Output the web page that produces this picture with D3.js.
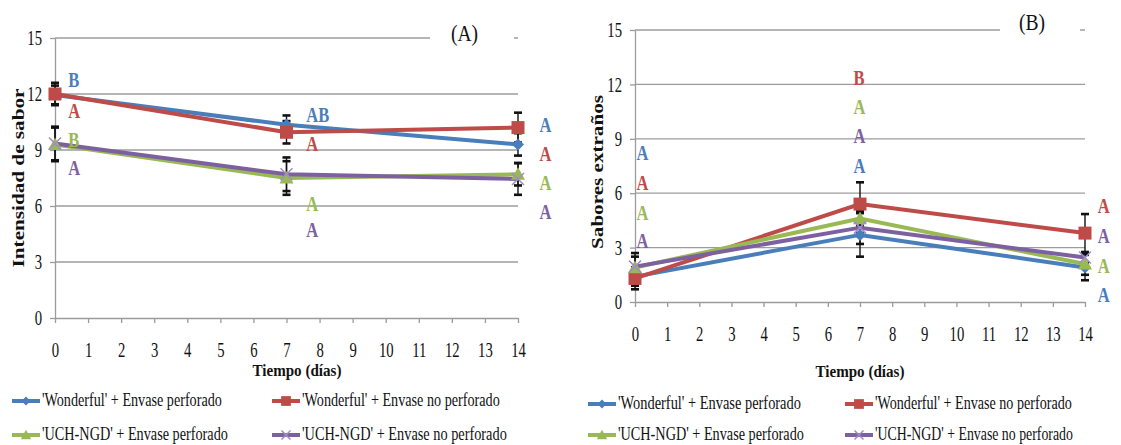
<!DOCTYPE html>
<html>
<head>
<meta charset="utf-8">
<script src="https://cdn.jsdelivr.net/npm/d3@7"></script>
<style>
  body { margin: 0; background: #fff; }
  svg { display: block; }
  svg text { font-family: "Liberation Serif", "Times New Roman", serif; }
</style>
</head>
<body>
<svg id="chart" width="1121" height="445"></svg>
<script>
const days = [0, 7, 14];
const xTicks = d3.range(0, 15);
const yTicks = [0, 3, 6, 9, 12, 15];

const seriesNames = [
    "'Wonderful' + Envase perforado",
    "'Wonderful' + Envase no perforado",
    "'UCH-NGD' + Envase perforado",
    "'UCH-NGD' + Envase no perforado"
];
const seriesColors = ["#4a7ebb", "#be4b48", "#98b954", "#7d60a0"];
const seriesSymbols = ["diamond", "square", "triangle", "cross"];

// (A) Intensidad de sabor
const intWonderfulPerf = [11.95, 10.35, 9.3];
const intWonderfulNoPerf = [12.0, 9.95, 10.2];
const intUchPerf = [9.3, 7.5, 7.7];
const intUchNoPerf = [9.35, 7.7, 7.45];
const intErrWonderfulPerf = [0.5, 0.5, 0.6];
const intErrWonderfulNoPerf = [0.6, 0.6, 0.8];
const intErrUchPerf = [0.9, 0.9, 0.6];
const intErrUchNoPerf = [0.9, 0.9, 0.85];
const intLetters = [["B", "A", "B", "A"], ["AB", "A", "A", "A"], ["A", "A", "A", "A"]];
const intLetterX = [0.4, 7.6, 14.65];
const intLetterY = [[12.37, 10.71, 9.16, 7.66], [10.5, 8.95, 5.73, 4.34], [9.96, 8.41, 6.86, 5.3]];

// (B) Sabores extraños
const extWonderfulPerf = [1.4, 3.7, 1.9];
const extWonderfulNoPerf = [1.3, 5.4, 3.8];
const extUchPerf = [1.9, 4.6, 2.1];
const extUchNoPerf = [1.95, 4.1, 2.45];
const extErrWonderfulPerf = [0.5, 1.2, 0.7];
const extErrWonderfulNoPerf = [0.6, 1.2, 1.05];
const extErrUchPerf = [0.8, 0.8, 0.6];
const extErrUchNoPerf = [0.55, 0.9, 0.3];
const extLetters = [["A", "A", "A", "A"], ["A", "B", "A", "A"], ["A", "A", "A", "A"]];
const extLetterX = [0.05, 6.8, 14.4];
const extLetterY = [[7.83, 6.18, 4.52, 2.98], [7.11, 11.97, 10.37, 8.77], [0.0, 4.91, 1.6, 3.25]];

const svg = d3.select("#chart");

// squash text horizontally, like the original picture (k = factor, or w = target width)
function squeeze(sel, k, w) {
    sel.each(function () {
        const t = d3.select(this);
        const f = w ? w / this.getComputedTextLength() : k;
        const x = +t.attr("x") || 0;
        const y = +t.attr("y") || 0;
        const pre = t.attr("transform") || `translate(${x}, ${y})`;
        t.attr("x", 0).attr("y", 0).attr("transform", `${pre} scale(${f}, 1)`);
    });
}

function marker(g, type, color, cx, cy, s) {
    if (type === "diamond") {
        const r = 6 * s;
        g.append("path")
        .attr("d", `M${cx},${cy - r}L${cx + r},${cy}L${cx},${cy + r}L${cx - r},${cy}Z`)
        .attr("fill", color);
    } else if (type === "square") {
        const h = 6.5 * s;
        g.append("rect")
        .attr("x", cx - h).attr("y", cy - h)
        .attr("width", 2 * h).attr("height", 2 * h)
        .attr("fill", color);
    } else if (type === "triangle") {
        const h = 7 * s;
        g.append("path")
        .attr("d", `M${cx},${cy - h}L${cx + h},${cy + h * 0.8}L${cx - h},${cy + h * 0.8}Z`)
        .attr("fill", color);
    } else {
        const h = 6 * s;
        g.append("path")
        .attr("d", `M${cx - h},${cy - h}L${cx + h},${cy + h}M${cx - h},${cy + h}L${cx + h},${cy - h}`)
        .attr("stroke", "#a08cc8")
        .attr("stroke-width", 1.5)
        .attr("fill", "none");
    }
}

function drawPanel(p) {
    const x = d3.scaleLinear().domain([0, 14]).range([p.left, p.right]);
    const y = d3.scaleLinear().domain([0, 15]).range([p.bottom, p.top]);
    const g = svg.append("g");

    g.selectAll(".grid")
    .data(yTicks.filter(t => t > 0))
    .enter()
    .append("line")
    .attr("x1", p.left)
    .attr("x2", p.right)
    .attr("y1", d => y(d))
    .attr("y2", d => y(d))
    .attr("stroke", "#9c9c9c")
    .attr("stroke-width", 1.3);

    const xAxis = g.append("g")
    .attr("transform", `translate(0, ${p.bottom})`)
    .call(d3.axisBottom(x).tickValues(xTicks).tickSize(5).tickSizeOuter(0).tickFormat(d3.format("d")));
    xAxis.attr("font-family", null).attr("font-size", 21);
    xAxis.selectAll(".domain, .tick line").attr("stroke", "#9c9c9c").attr("stroke-width", 1.3);
    xAxis.selectAll("text")
    .attr("y", p.xTickBase - p.bottom)
    .attr("dy", null)
    .attr("fill", "#111");
    squeeze(xAxis.selectAll("text"), 0.7);

    const yAxis = g.append("g")
    .attr("transform", `translate(${p.left}, 0)`)
    .call(d3.axisLeft(y).tickValues(yTicks).tickSize(5).tickSizeOuter(0).tickPadding(8));
    yAxis.attr("font-family", null).attr("font-size", 21);
    yAxis.selectAll(".domain, .tick line").attr("stroke", "#9c9c9c").attr("stroke-width", 1.3);
    yAxis.selectAll("text").attr("fill", "#111");
    squeeze(yAxis.selectAll("text"), 0.7);

    // panel tag, white box over the top gridline
    g.append("rect")
    .attr("x", p.boxX0)
    .attr("y", y(15) - 14)
    .attr("width", p.boxX1 - p.boxX0)
    .attr("height", 28)
    .attr("fill", "#fff");
    const tag = g.append("text")
    .text(p.tag)
    .attr("x", p.tagX)
    .attr("y", p.tagY)
    .attr("font-size", 23)
    .attr("fill", "#111");
    squeeze(tag, 0.85);

    // error bars
    p.series.forEach(s => {
        days.forEach((d, j) => {
            const lo = y(s.values[j] - s.err[j]);
            const hi = y(s.values[j] + s.err[j]);
            g.append("line")
            .attr("x1", x(d)).attr("x2", x(d))
            .attr("y1", lo).attr("y2", hi)
            .attr("stroke", "#111").attr("stroke-width", 1.4);
            [lo, hi].forEach(c => {
                g.append("line")
                .attr("x1", x(d) - 4).attr("x2", x(d) + 4)
                .attr("y1", c).attr("y2", c)
                .attr("stroke", "#111").attr("stroke-width", 2.6);
            });
        });
    });

    const line = d3.line().x((v, j) => x(days[j])).y(v => y(v));
    p.series.forEach(s => {
        g.append("path")
        .attr("d", line(s.values))
        .attr("fill", "none")
        .attr("stroke", s.color)
        .attr("stroke-width", 4);
    });
    p.series.forEach(s => {
        s.values.forEach((v, j) => marker(g, s.symbol, s.color, x(days[j]), y(v), 1));
    });

    // significance letters
    p.letterX.forEach((lx, j) => {
        p.series.forEach((s, i) => {
            const t = g.append("text")
            .text(p.letters[j][i])
            .attr("x", x(lx))
            .attr("y", y(p.letterY[j][i]))
            .attr("font-size", 22)
            .attr("font-weight", "bold")
            .attr("fill", s.color);
            squeeze(t, 0.75);
        });
    });

    const xt = g.append("text")
    .text("Tiempo (días)")
    .attr("x", p.xTitleX - 44.5)
    .attr("y", p.xTitleY)
    .attr("font-size", 17)
    .attr("font-weight", "bold")
    .attr("fill", "#111");
    squeeze(xt, 0, 89);

    const yt = g.append("text")
    .text(p.yTitle)
    .attr("transform", `translate(${p.yTitleX}, ${p.yTitleY}) rotate(-90)`)
    .attr("text-anchor", "middle")
    .attr("font-size", 17)
    .attr("font-weight", "bold")
    .attr("fill", "#111");
    squeeze(yt, 0, p.yTitleLen);
}

function makeSeries(vals, errs) {
    return vals.map((v, i) => ({
        values: v,
        err: errs[i],
        color: seriesColors[i],
        symbol: seriesSymbols[i]
    }));
}

function drawLegend(cols, rows, widths) {
    const g = svg.append("g");
    seriesNames.forEach((name, i) => {
        const lx = cols[i % 2];
        const ly = rows[Math.floor(i / 2)];
        g.append("line")
        .attr("x1", lx).attr("x2", lx + 28)
        .attr("y1", ly).attr("y2", ly)
        .attr("stroke", seriesColors[i])
        .attr("stroke-width", 4);
        marker(g, seriesSymbols[i], seriesColors[i], lx + 14, ly, 0.75);
        const t = g.append("text")
        .text(name)
        .attr("x", lx + 30)
        .attr("y", ly + 5)
        .attr("font-size", 18)
        .attr("fill", "#111");
        squeeze(t, 0, widths[i]);
    });
}

drawPanel({
    left: 55, right: 518, top: 38, bottom: 318,
    xTickBase: 357,
    series: makeSeries(
        [intWonderfulPerf, intWonderfulNoPerf, intUchPerf, intUchNoPerf],
        [intErrWonderfulPerf, intErrWonderfulNoPerf, intErrUchPerf, intErrUchNoPerf]),
    letters: intLetters, letterX: intLetterX, letterY: intLetterY,
    tag: "(A)", tagX: 451, tagY: 41, boxX0: 430, boxX1: 514,
    xTitleX: 297, xTitleY: 376,
    yTitle: "Intensidad de sabor", yTitleX: 24, yTitleY: 178, yTitleLen: 179
});

drawPanel({
    left: 635, right: 1085, top: 30, bottom: 302,
    xTickBase: 341,
    series: makeSeries(
        [extWonderfulPerf, extWonderfulNoPerf, extUchPerf, extUchNoPerf],
        [extErrWonderfulPerf, extErrWonderfulNoPerf, extErrUchPerf, extErrUchNoPerf]),
    letters: extLetters, letterX: extLetterX, letterY: extLetterY,
    tag: "(B)", tagX: 1019, tagY: 30, boxX0: 1000, boxX1: 1080,
    xTitleX: 860, xTitleY: 377,
    yTitle: "Sabores extraños", yTitleX: 603, yTitleY: 172, yTitleLen: 154
});

drawLegend([12, 272], [401, 435], [180, 198, 186, 205]);
drawLegend([588, 845], [404, 435], [183, 197, 186, 198]);
</script>
</body>
</html>
